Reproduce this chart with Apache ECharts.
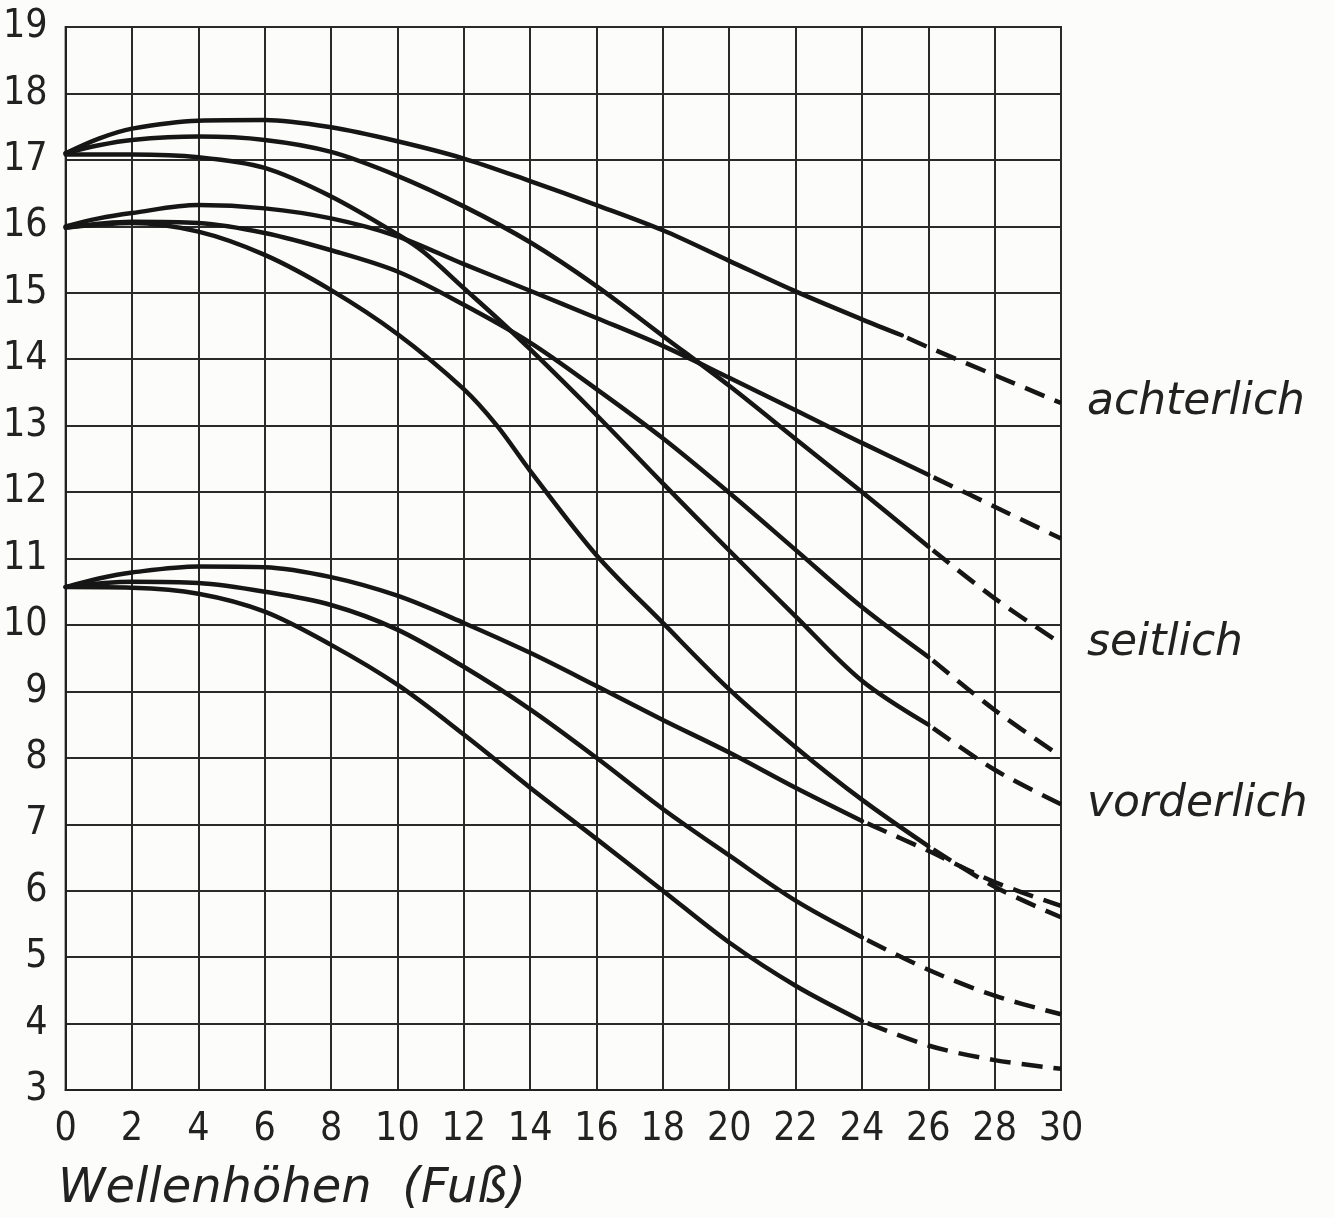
<!DOCTYPE html>
<html>
<head>
<meta charset="utf-8">
<script src="https://cdn.jsdelivr.net/npm/echarts@6/dist/echarts.min.js"></script>
<style>
  html, body { margin: 0; padding: 0; background: #fcfcfa; }
  #chart { width: 1334px; height: 1218px; }
</style>
</head>
<body>
<div id="chart"></div>
<script>
// ---- axis ticks ----
const xTicks = [0, 2, 4, 6, 8, 10, 12, 14, 16, 18, 20, 22, 24, 26, 28, 30];
const yTicks = [3, 4, 5, 6, 7, 8, 9, 10, 11, 12, 13, 14, 15, 16, 17, 18, 19];
const xAxisTitle = 'Wellenhöhen  (Fuß)';

// ---- curves starting at 17.1 (achterlich / seitlich / vorderlich) ----
const A1_x = [0, 1, 2, 4, 6, 8, 10, 12, 14, 16, 18, 20, 22, 24, 25.2, 26, 28, 30];
const A1_y = [17.1, 17.32, 17.47, 17.59, 17.6, 17.49, 17.28, 17.02, 16.68, 16.32, 15.94, 15.48, 15.02, 14.6, 14.36, 14.18, 13.76, 13.34];
const A1_break = 25.2;
const A1_label = 'achterlich';

const A2_x = [0, 1, 2, 4, 6, 8, 10, 12, 14, 16, 18, 20, 22, 24, 26, 28, 30];
const A2_y = [17.1, 17.22, 17.3, 17.35, 17.3, 17.12, 16.76, 16.3, 15.76, 15.1, 14.35, 13.6, 12.8, 12.0, 11.18, 10.4, 9.72];
const A2_break = 26;
const A2_label = 'seitlich';

const A3_x = [0, 2, 4, 6, 8, 10, 10.8, 12, 13, 14, 16, 18, 20, 22, 24, 26, 28, 30];
const A3_y = [17.08, 17.08, 17.04, 16.88, 16.45, 15.88, 15.61, 15.07, 14.62, 14.15, 13.16, 12.13, 11.12, 10.13, 9.16, 8.5, 7.82, 7.3];
const A3_break = 26;
const A3_label = 'vorderlich';

// ---- curves starting at 16.0 ----
const B1_x = [0, 1, 2, 4, 6, 8, 10, 12, 14, 16, 18, 20, 22, 24, 26, 28, 30];
const B1_y = [16.0, 16.12, 16.2, 16.32, 16.27, 16.12, 15.85, 15.43, 15.03, 14.62, 14.2, 13.72, 13.23, 12.74, 12.26, 11.78, 11.3];
const B1_break = 26;

const B2_x = [0, 2, 4, 6, 8, 10, 12, 14, 16, 18, 20, 22, 24, 26, 28, 30];
const B2_y = [15.98, 16.07, 16.05, 15.9, 15.64, 15.32, 14.82, 14.25, 13.55, 12.81, 11.99, 11.13, 10.27, 9.52, 8.72, 8.02];
const B2_break = 26;

const B3_x = [0, 2, 4, 6, 8, 10, 12, 13, 14, 16, 18, 20, 22, 24, 26, 28, 30];
const B3_y = [15.98, 16.05, 15.92, 15.57, 15.04, 14.38, 13.55, 13.0, 12.32, 11.05, 10.03, 9.03, 8.16, 7.37, 6.67, 6.06, 5.6];
const B3_break = 26;

// ---- curves starting at 10.6 ----
const C1_x = [0, 1, 2, 4, 6, 8, 10, 12, 14, 16, 18, 20, 22, 24, 26, 28, 30];
const C1_y = [10.57, 10.7, 10.79, 10.88, 10.87, 10.72, 10.44, 10.03, 9.58, 9.08, 8.57, 8.08, 7.55, 7.05, 6.6, 6.13, 5.77];
const C1_break = 24;

const C2_x = [0, 2, 4, 6, 8, 10, 12, 14, 16, 18, 20, 22, 24, 26, 28, 30];
const C2_y = [10.57, 10.65, 10.63, 10.5, 10.3, 9.93, 9.37, 8.73, 8.0, 7.23, 6.53, 5.85, 5.3, 4.81, 4.42, 4.14];
const C2_break = 24;

const C3_x = [0, 2, 4, 6, 8, 10, 12, 14, 16, 18, 20, 22, 24, 26, 28, 30];
const C3_y = [10.57, 10.56, 10.47, 10.2, 9.7, 9.1, 8.35, 7.55, 6.78, 6.0, 5.22, 4.57, 4.04, 3.67, 3.45, 3.32];
const C3_break = 24;

// ---- build series ----
const INK = '#161616';
const curves = [
  { id: 'A1', xs: A1_x, ys: A1_y, brk: A1_break, label: A1_label },
  { id: 'A2', xs: A2_x, ys: A2_y, brk: A2_break, label: A2_label },
  { id: 'A3', xs: A3_x, ys: A3_y, brk: A3_break, label: A3_label },
  { id: 'B1', xs: B1_x, ys: B1_y, brk: B1_break },
  { id: 'B2', xs: B2_x, ys: B2_y, brk: B2_break },
  { id: 'B3', xs: B3_x, ys: B3_y, brk: B3_break },
  { id: 'C1', xs: C1_x, ys: C1_y, brk: C1_break },
  { id: 'C2', xs: C2_x, ys: C2_y, brk: C2_break },
  { id: 'C3', xs: C3_x, ys: C3_y, brk: C3_break }
];

const italicFont = "'DejaVu Sans', sans-serif";
const SMOOTH = 0.33;
const series = [];
curves.forEach(c => {
  const pts = c.xs.map((x, i) => [x, c.ys[i]]);
  const solid = pts.filter(p => p[0] <= c.brk);
  const dashed = pts.filter(p => p[0] >= c.brk);
  series.push({
    name: c.id + ' solid', type: 'line', data: solid, smooth: SMOOTH,
    showSymbol: false, symbol: 'none', silent: true,
    lineStyle: { color: INK, width: 4.5, cap: 'round' }
  });
  const d = {
    name: c.id + ' dashed', type: 'line', data: dashed, smooth: SMOOTH,
    showSymbol: false, symbol: 'none', silent: true,
    lineStyle: { color: INK, width: 4.5, type: [21, 11], dashOffset: 26 }
  };
  if (c.label) {
    d.endLabel = {
      show: true, formatter: c.label, distance: 26,
      fontFamily: italicFont, fontStyle: 'italic', fontWeight: 'lighter',
      fontSize: 44, color: '#222'
    };
  }
  series.push(d);
});

const chart = echarts.init(document.getElementById('chart'), null, { renderer: 'canvas' });
const tickFont = "'Liberation Sans Narrow', 'DejaVu Sans Condensed', 'Roboto Condensed', 'Liberation Sans', sans-serif";
chart.setOption({
  backgroundColor: '#fcfcfa',
  animation: false,
  grid: { left: 65, right: 273, top: 27, bottom: 128, show: true, borderColor: '#222', borderWidth: 2, backgroundColor: 'transparent' },
  xAxis: {
    type: 'value', min: xTicks[0], max: xTicks[xTicks.length - 1], interval: xTicks[1] - xTicks[0],
    axisLine: { show: true, lineStyle: { color: '#222', width: 2 } },
    axisTick: { show: false },
    splitLine: { show: true, lineStyle: { color: '#2a2a2a', width: 2 } },
    axisLabel: { color: '#222', fontFamily: tickFont, fontSize: 39, margin: 20 }
  },
  yAxis: {
    type: 'value', min: yTicks[0], max: yTicks[yTicks.length - 1], interval: yTicks[1] - yTicks[0],
    axisLine: { show: true, lineStyle: { color: '#222', width: 2 } },
    axisTick: { show: false },
    splitLine: { show: true, lineStyle: { color: '#2a2a2a', width: 2 } },
    axisLabel: { color: '#222', fontFamily: tickFont, fontSize: 39, margin: 18 }
  },
  graphic: [{
    type: 'text', left: 58, top: 1166,
    style: { text: xAxisTitle, fontFamily: italicFont, fontStyle: 'italic', fontWeight: 'lighter', fontSize: 48, fill: '#222' }
  }],
  series: series
});
</script>
</body>
</html>
